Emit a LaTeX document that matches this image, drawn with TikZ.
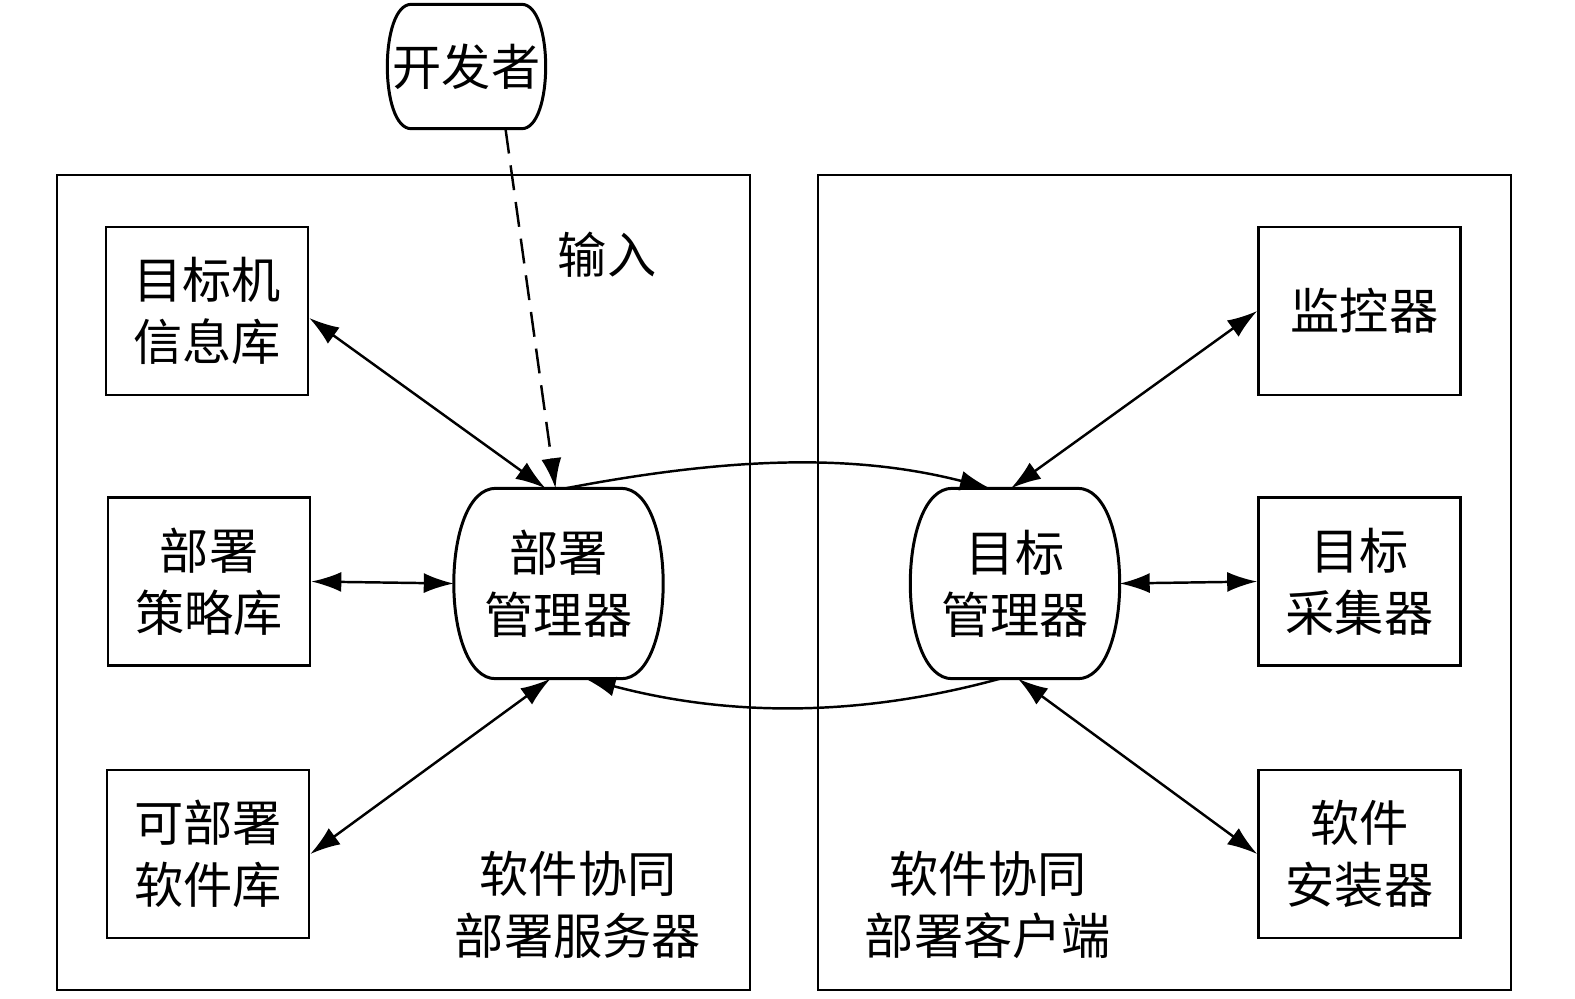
\documentclass[tikz,border=0pt]{standalone}
\usepackage{fontspec}
\usepackage{tikz}
\usetikzlibrary{arrows.meta}
\newfontfamily\cjk{Noto Sans CJK SC}

\tikzset{
	every node/.style={font=\cjk\fontsize{14pt}{17.6pt}\selectfont, align=center},
	store/.style={draw, line width=0.75pt, minimum width=2.02cm, minimum height=1.68cm},
	mgr/.style={minimum width=2.08cm, minimum height=1.89cm, inner sep=0pt},
	devnode/.style={minimum width=1.57cm, minimum height=1.23cm, inner sep=0pt},
	frame/.style={draw, line width=0.6pt, minimum width=6.93cm, minimum height=8.15cm},
	dbl/.style={{Latex[length=0.3cm,width=0.2cm]}-{Latex[length=0.3cm,width=0.2cm]}, line width=0.7pt},
	one/.style={-{Latex[length=0.3cm,width=0.2cm]}, line width=0.7pt}
}

\begin{document}
\begin{tikzpicture}
		\useasboundingbox (0,0) rectangle (15.75,-9.98);
		\node[frame] (server) at (4.035,-5.825) {};
		\node[frame] (client) at (11.645,-5.825) {};
		\node[store] (tinfo) at (2.07,-3.11) {目标机\\信息库};
		\node[store] (policy) at (2.09,-5.815) {部署\\策略库};
		\node[store] (softlib) at (2.08,-8.54) {可部署\\软件库};
		\node[store] (monitor) at (13.595,-3.11) {\hspace{0.1cm}监控器};
		\node[store] (collect) at (13.595,-5.815) {目标\\采集器};
		\node[store] (install) at (13.595,-8.54) {软件\\安装器};
		\node[mgr] (depmgr) at (5.585,-5.835) {部署\\管理器};
		\node[mgr] (tgtmgr) at (10.15,-5.835) {目标\\管理器};
		\node[devnode] (dev) at (4.665,-0.665) {开发者};
		\node (serverlbl) at (5.78,-9.05) {软件协同\\部署服务器};
		\node (clientlbl) at (9.88,-9.05) {软件协同\\部署客户端};
		\node (inlbl) at (6.07,-2.55) {输入};
		\foreach \n/\d in {dev/0.24, depmgr/0.42, tgtmgr/0.42} {
		  \draw[line width=0.85pt] ([xshift=\d cm]\n.north west) -- ([xshift=-\d cm]\n.north east)
		    .. controls +(4*\d/3,0) and ([xshift=\d cm/3]\n.south east) .. ([xshift=-\d cm]\n.south east)
		    -- ([xshift=\d cm]\n.south west)
		    .. controls +(-4*\d/3,0) and ([xshift=-\d cm/3]\n.north west) .. cycle;
		}
		\draw[one, dashed, dash pattern=on 0.25cm off 0.12cm] ([xshift=0.39cm]dev.south) -- ([xshift=-0.03cm]depmgr.north);
		\draw[dbl] ([yshift=-0.07cm]tinfo.east) -- ([xshift=-0.13cm]depmgr.north);
		\draw[dbl] (policy.east) -- (depmgr.west);
		\draw[dbl] (softlib.east) -- ([xshift=-0.08cm]depmgr.south);
		\draw[dbl] (monitor.west) -- ([xshift=-0.04cm]tgtmgr.north);
		\draw[dbl] (tgtmgr.east) -- (collect.west);
		\draw[dbl] (install.west) -- ([xshift=0.03cm]tgtmgr.south);
		\draw[one] ([xshift=0.07cm]depmgr.north) .. controls (7.4,-4.55) and (8.6,-4.55) .. ([xshift=-0.25cm]tgtmgr.north);
		\draw[one] ([xshift=-0.15cm]tgtmgr.south) .. controls (8.6,-7.17) and (7.3,-7.17) .. ([xshift=0.27cm]depmgr.south);
\end{tikzpicture}
\end{document}
